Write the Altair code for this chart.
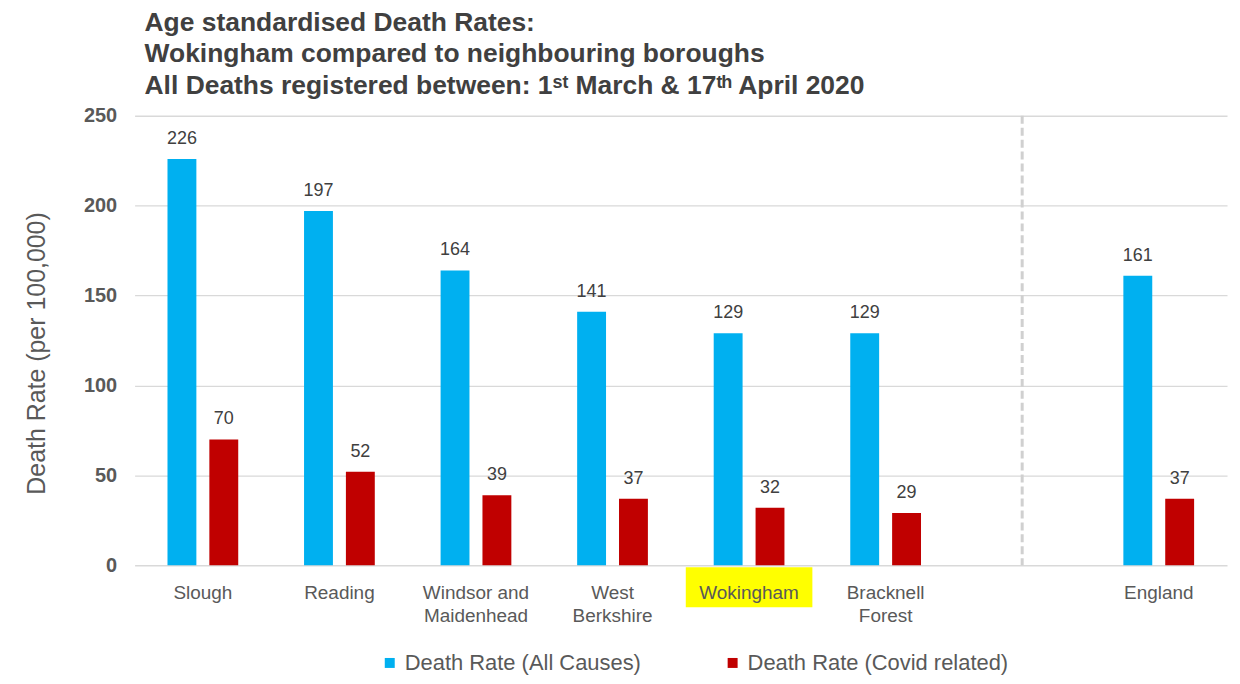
import altair as alt
import pandas as pd

# ---- data ----
areas = ["Slough", "Reading", "Windsor and Maidenhead", "West Berkshire",
         "Wokingham", "Bracknell Forest", "England"]
all_causes = [226, 197, 164, 141, 129, 129, 161]
covid = [70, 52, 39, 37, 32, 29, 37]
series = ["Death Rate (All Causes)", "Death Rate (Covid related)"]
colors = ["#00b0f0", "#c00000"]
x_domain = ["Slough", "Reading", "Windsor and Maidenhead", "West Berkshire",
            "Wokingham", "Bracknell Forest", "gap", "England"]
y_ticks = [0, 50, 100, 150, 200, 250]
title_lines = ["Age standardised Death Rates:",
               "Wokingham compared to neighbouring boroughs",
               "All Deaths registered between: 1ˢᵗ March & 17ᵗʰ April 2020"]
highlight = ["Wokingham"]
separator = ["gap"]

rows = []
for a, v1, v2 in zip(areas, all_causes, covid):
    rows.append({"area": a, "series": series[0], "value": v1})
    rows.append({"area": a, "series": series[1], "value": v2})
df = pd.DataFrame(rows)

FONT = "Liberation Sans"

label_expr = ("datum.value == 'Windsor and Maidenhead' ? ['Windsor and', 'Maidenhead'] : "
              "datum.value == 'West Berkshire' ? ['West', 'Berkshire'] : "
              "datum.value == 'Bracknell Forest' ? ['Bracknell', 'Forest'] : "
              "datum.value == 'gap' ? '' : datum.value")

x_scale = alt.Scale(domain=x_domain, paddingInner=0, paddingOuter=0)
x_axis = alt.Axis(title=None, labelExpr=label_expr, labelAngle=0, domain=False, ticks=False,
                  labelPadding=18, labelFontSize=19, labelColor="#595959", labelFont=FONT,
                  labelLineHeight=23, labelBaseline="top", zindex=1)
x_enc = alt.X("area:N", scale=x_scale, axis=x_axis)
xoff = alt.XOffset("series:N", scale=alt.Scale(domain=series, paddingInner=0.31, paddingOuter=0.786))
y_enc = alt.Y("value:Q", scale=alt.Scale(domain=[0, 250], nice=False),
              axis=alt.Axis(values=y_ticks, title="Death Rate (per 100,000)", domain=False, ticks=False,
                            labelFontSize=20, labelFontWeight="bold", labelColor="#595959", labelFont=FONT,
                            labelPadding=18, titleFontSize=25, titleFontWeight="normal",
                            titleColor="#595959", titleFont=FONT, titlePadding=34, titleY=238,
                            gridColor="#d9d9d9", gridWidth=1.3))

hl = alt.Chart(pd.DataFrame({"area": highlight})).mark_bar(width=127, color="#ffff00").encode(
    x=alt.X("area:N", scale=x_scale, axis=x_axis),
    y=alt.value(453), y2=alt.value(493))

sep = alt.Chart(pd.DataFrame({"area": separator})).mark_rule(
    strokeDash=[8, 4], color="#d0d0d0", strokeWidth=3).encode(
    x=alt.X("area:N", scale=x_scale, axis=x_axis, bandPosition=0.5),
    y=alt.value(0), y2=alt.value(451))

bars = alt.Chart(df).mark_bar().encode(
    x=x_enc, xOffset=xoff, y=y_enc,
    color=alt.Color("series:N", scale=alt.Scale(domain=series, range=colors),
                    legend=alt.Legend(orient="none", legendX=245, legendY=538, direction="horizontal",
                                      title=None, symbolType="square", symbolSize=100,
                                      symbolStrokeWidth=0, labelFontSize=22, labelColor="#595959",
                                      labelFont=FONT, labelLimit=500, columnPadding=80,
                                      symbolOffset=0, labelOffset=4)))

labels = alt.Chart(df).mark_text(baseline="bottom", dy=-11, fontSize=18, color="#404040", font=FONT).encode(
    x=x_enc, xOffset=xoff, y=y_enc, text=alt.Text("value:Q"))

chart = alt.layer(hl, sep, bars, labels).properties(
    width=1096, height=451,
    autosize=alt.AutoSizeParams(type="none"),
    padding={"left": 127, "top": 107, "right": 5, "bottom": 110},
    title=alt.TitleParams(text=title_lines, anchor="start", frame="group", fontSize=26.5, font=FONT,
                          fontWeight="bold", color="#404040", lineHeight=32, offset=6, dx=10),
).configure_view(stroke=None)

chart.save("out.html", embed_options={"renderer": "svg", "actions": False})
